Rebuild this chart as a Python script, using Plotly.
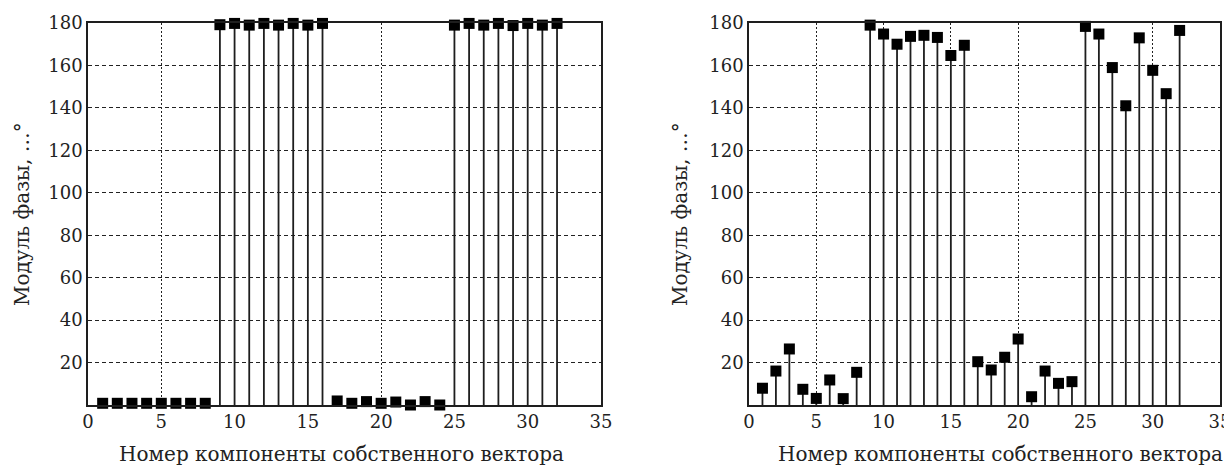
import plotly.graph_objects as go

# ---- data ----
component = list(range(1, 33))
phase_left = [0.8, 0.8, 0.8, 0.8, 0.8, 0.8, 0.8, 0.8,
              179.2, 179.8, 179.0, 179.8, 179.0, 179.8, 179.0, 179.8,
              1.9, 0.8, 1.6, 0.8, 1.4, 0.0, 1.6, 0.0,
              179.0, 179.8, 179.0, 179.8, 178.8, 179.8, 179.0, 179.8]
phase_right = [7.9, 16.0, 26.4, 7.4, 3.1, 11.8, 3.0, 15.4,
               179.0, 174.8, 170.0, 173.7, 174.2, 173.2, 164.7, 169.5,
               20.4, 16.5, 22.5, 31.1, 3.9, 16.0, 10.2, 11.0,
               178.4, 174.8, 159.0, 141.0, 173.0, 157.7, 146.7, 176.5]
x_ticks = [0, 5, 10, 15, 20, 25, 30, 35]
y_ticks = [20, 40, 60, 80, 100, 120, 140, 160, 180]
x_title = "Номер компоненты собственного вектора"
y_title = "Модуль фазы, …°"

FONT = "DejaVu Serif"
OFF = 8  # page body margin
W, H = 1232 - OFF, 467 - OFF

def px2x(p):
    return (p - OFF) / W

def px2y(p):
    return 1 - (p - OFF) / H

fig = go.Figure()

def add_stems(xs, ys, xa, ya):
    sx, sy = [], []
    for a, b in zip(xs, ys):
        sx += [a, a, None]
        sy += [0, b, None]
    fig.add_trace(go.Scatter(x=sx, y=sy, mode="lines", xaxis=xa, yaxis=ya,
                             line=dict(color="#1e1e1e", width=1.8),
                             hoverinfo="skip", showlegend=False))
    fig.add_trace(go.Scatter(x=xs, y=ys, mode="markers", xaxis=xa, yaxis=ya,
                             marker=dict(symbol="square", size=11, color="black",
                                         line=dict(width=0)),
                             cliponaxis=False, showlegend=False))

add_stems(component, phase_left, "x", "y")
add_stems(component, phase_right, "x2", "y2")

ydom = [px2y(405), px2y(23)]
xdom1 = [px2x(88), px2x(601)]
xdom2 = [px2x(749), px2x(1220)]

tfont = dict(family=FONT, size=18, color="#222")
lfont = dict(family=FONT, size=20, color="#222")

common_x = dict(range=[0, 35], tickvals=x_ticks, showgrid=True,
                gridcolor="#222", griddash="2px,2px", gridwidth=1.2,
                showline=True, linecolor="#1e1e1e", linewidth=1.6, mirror=True,
                ticks="", tickfont=tfont, zeroline=False, fixedrange=True,
                automargin=False)
common_y = dict(range=[0, 180], tickvals=y_ticks, showgrid=True,
                gridcolor="#222", griddash="4px,3px", gridwidth=1.2,
                showline=True, linecolor="#1e1e1e", linewidth=1.6, mirror=True,
                ticks="", tickfont=tfont, zeroline=False, fixedrange=True,
                automargin=False)

def ann(text, x, y, angle=0):
    return dict(text=text, x=px2x(x), y=px2y(y), xref="paper", yref="paper",
                xanchor="center", yanchor="middle", showarrow=False,
                textangle=angle, font=lfont)

fig.update_layout(
    template="none",
    width=W, height=H,
    margin=dict(l=0, r=0, t=0, b=0, pad=0),
    paper_bgcolor="white", plot_bgcolor="white",
    font=dict(family=FONT),
    xaxis=dict(domain=xdom1, anchor="y", **common_x),
    yaxis=dict(domain=ydom, anchor="x", **common_y),
    xaxis2=dict(domain=xdom2, anchor="y2", **common_x),
    yaxis2=dict(domain=ydom, anchor="x2", **common_y),
    annotations=[
        ann(x_title, 342, 454),
        ann(x_title, 1000, 454),
        ann(y_title, 22, 214, -90),
        ann(y_title, 680, 214, -90),
    ],
)

fig.write_html("out.html")
